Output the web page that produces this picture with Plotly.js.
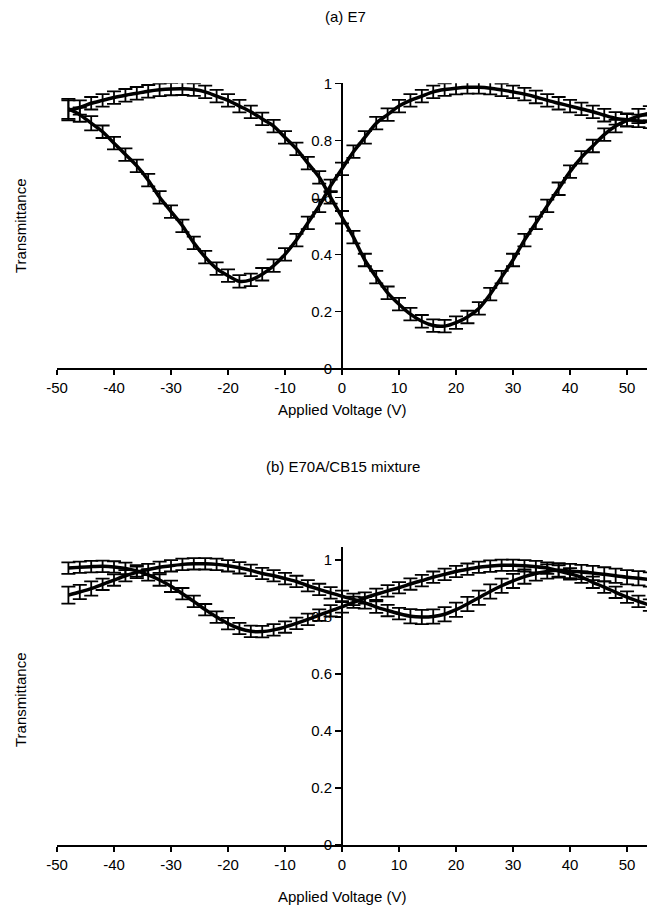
<!DOCTYPE html>
<html>
<head>
<meta charset="utf-8">
<script src="https://cdn.plot.ly/plotly-3.0.1.min.js"></script>
<style>html,body{margin:0;padding:0;background:#fff;}#chart{width:647px;height:907px;}</style>
</head>
<body>
<div id="chart"></div>
<script>
// Applied voltage (V)
var voltage = [-48,-46,-44,-42,-40,-38,-36,-34,-32,-30,-28,-26,-24,-22,-20,-18,-16,-14,-12,-10,-8,-6,-4,-2,0,2,4,6,8,10,12,14,16,18,20,22,24,26,28,30,32,34,36,38,40,42,44,46,48,50,52,54];

// (a) E7
var e7SweepA = [0.91,0.89,0.86,0.83,0.79,0.75,0.71,0.66,0.60,0.55,0.50,0.44,0.39,0.35,0.325,0.305,0.31,0.33,0.36,0.40,0.45,0.51,0.57,0.64,0.70,0.76,0.81,0.86,0.89,0.92,0.94,0.955,0.97,0.978,0.983,0.986,0.986,0.983,0.977,0.97,0.962,0.952,0.94,0.93,0.92,0.91,0.90,0.888,0.877,0.872,0.868,0.865];
var e7SweepB = [0.905,0.915,0.93,0.94,0.95,0.958,0.965,0.972,0.977,0.98,0.981,0.978,0.97,0.955,0.94,0.92,0.90,0.875,0.85,0.81,0.77,0.72,0.67,0.60,0.53,0.46,0.38,0.32,0.265,0.225,0.19,0.165,0.15,0.148,0.16,0.18,0.21,0.26,0.32,0.38,0.45,0.51,0.57,0.63,0.69,0.74,0.78,0.82,0.85,0.87,0.885,0.895];
var e7ErrA = [0.035,0.025,0.025,0.022,0.022,0.022,0.022,0.022,0.022,0.022,0.022,0.022,0.022,0.022,0.022,0.022,0.022,0.022,0.022,0.022,0.022,0.022,0.022,0.022,0.022,0.022,0.022,0.022,0.022,0.022,0.022,0.022,0.022,0.022,0.022,0.022,0.022,0.022,0.022,0.022,0.022,0.022,0.022,0.022,0.022,0.022,0.022,0.022,0.022,0.022,0.022,0.022];
var e7ErrB = [0.035,0.025,0.022,0.022,0.022,0.022,0.022,0.022,0.022,0.022,0.022,0.022,0.022,0.022,0.022,0.022,0.022,0.022,0.022,0.022,0.022,0.022,0.022,0.022,0.022,0.022,0.022,0.022,0.022,0.022,0.022,0.022,0.022,0.022,0.022,0.022,0.022,0.022,0.022,0.022,0.022,0.022,0.022,0.022,0.022,0.022,0.022,0.022,0.022,0.022,0.025,0.025];

// (b) E70A/CB15 mixture
var mixSweepC = [0.972,0.975,0.977,0.978,0.976,0.971,0.962,0.948,0.93,0.908,0.882,0.855,0.826,0.80,0.777,0.76,0.75,0.749,0.755,0.765,0.778,0.792,0.807,0.822,0.836,0.852,0.867,0.88,0.892,0.903,0.916,0.928,0.94,0.95,0.96,0.968,0.975,0.979,0.982,0.982,0.98,0.977,0.972,0.962,0.952,0.94,0.922,0.905,0.887,0.87,0.855,0.842];
var mixSweepD = [0.877,0.888,0.90,0.915,0.93,0.945,0.957,0.967,0.975,0.98,0.985,0.987,0.987,0.985,0.98,0.973,0.964,0.953,0.945,0.935,0.925,0.91,0.897,0.885,0.873,0.862,0.85,0.835,0.823,0.812,0.803,0.80,0.802,0.81,0.826,0.846,0.868,0.89,0.91,0.927,0.942,0.953,0.96,0.964,0.962,0.958,0.955,0.95,0.945,0.94,0.936,0.932];
var mixErrC = [0.02,0.02,0.02,0.02,0.02,0.02,0.02,0.02,0.02,0.02,0.02,0.02,0.02,0.02,0.02,0.02,0.02,0.02,0.02,0.02,0.02,0.02,0.02,0.02,0.02,0.02,0.02,0.02,0.02,0.02,0.02,0.02,0.02,0.02,0.02,0.02,0.02,0.02,0.02,0.02,0.02,0.02,0.02,0.02,0.02,0.02,0.02,0.02,0.02,0.02,0.02,0.02];
var mixErrD = [0.03,0.025,0.025,0.02,0.02,0.02,0.02,0.02,0.02,0.02,0.02,0.02,0.02,0.02,0.02,0.02,0.02,0.02,0.02,0.02,0.02,0.02,0.02,0.02,0.02,0.02,0.02,0.02,0.02,0.02,0.025,0.025,0.025,0.025,0.025,0.025,0.025,0.025,0.025,0.025,0.025,0.025,0.025,0.025,0.025,0.025,0.025,0.025,0.025,0.025,0.025,0.025];

var xTickVals = [-50,-40,-30,-20,-10,0,10,20,30,40,50];
var xTickText = ['-50','-40','-30','-20','-10','0','10','20','30','40','50'];
var yTickVals = [0,0.2,0.4,0.6,0.8,1];
var yTickText = ['0','0.2','0.4','0.6','0.8','1'];

var FONT = 'Liberation Sans, Arial, sans-serif';

function series(y, err, xa, ya) {
  return {
    x: voltage, y: y, xaxis: xa, yaxis: ya,
    type: 'scatter', mode: 'lines',
    line: {color: '#000', width: 3.5, shape: 'spline', smoothing: 0.8},
    error_y: {type: 'data', array: err, visible: true, color: '#000', thickness: 1.8, width: 7},
    showlegend: false, hoverinfo: 'skip'
  };
}

var data = [
  series(e7SweepA, e7ErrA, 'x', 'y'),
  series(e7SweepB, e7ErrB, 'x', 'y'),
  series(mixSweepC, mixErrC, 'x2', 'y2'),
  series(mixSweepD, mixErrD, 'x2', 'y2')
];

var W = 647, H = 907;
var xDom = [57 / W, 1];
function xAxis(anchor) {
  return {
    domain: xDom, range: [-50, 53.5], anchor: anchor,
    tickmode: 'array', tickvals: xTickVals, ticktext: xTickText,
    ticks: 'outside', ticklen: 5, tickwidth: 1.5, tickcolor: '#000',
    showline: true, linecolor: '#000', linewidth: 2,
    showgrid: false, zeroline: false,
    tickfont: {family: FONT, size: 15, color: '#000'}
  };
}
function yAxis(dom, range) {
  return {
    domain: dom, range: range, anchor: 'free', position: 342 / W,
    tickmode: 'array', tickvals: yTickVals, ticktext: yTickText,
    ticks: 'outside', ticklen: 6, tickwidth: 1.5, tickcolor: '#000',
    showline: true, linecolor: '#000', linewidth: 2,
    showgrid: false, zeroline: false,
    tickfont: {family: FONT, size: 15, color: '#000'}
  };
}

var layout = {
  width: W, height: H,
  margin: {l: 0, r: 0, t: 0, b: 0},
  paper_bgcolor: '#fff', plot_bgcolor: '#fff',
  font: {family: FONT, color: '#000'},
  xaxis: xAxis('y'),
  yaxis: yAxis([(H - 368.3) / H, (H - 83.3) / H], [0, 1]),
  xaxis2: xAxis('y2'),
  yaxis2: yAxis([(H - 845) / H, (H - 547) / H], [0, 1.046]),
  annotations: [
    {text: '(a) E7', xref: 'paper', yref: 'paper', x: 345 / W, y: (H - 17) / H, showarrow: false, xanchor: 'center', yanchor: 'middle', font: {family: FONT, size: 15}},
    {text: 'Applied Voltage (V)', xref: 'paper', yref: 'paper', x: 342 / W, y: (H - 409) / H, showarrow: false, xanchor: 'center', yanchor: 'middle', font: {family: FONT, size: 15}},
    {text: 'Transmittance', xref: 'paper', yref: 'paper', x: 20 / W, y: (H - 226) / H, showarrow: false, textangle: -90, xanchor: 'center', yanchor: 'middle', font: {family: FONT, size: 15}},
    {text: '(b) E70A/CB15 mixture', xref: 'paper', yref: 'paper', x: 343 / W, y: (H - 466) / H, showarrow: false, xanchor: 'center', yanchor: 'middle', font: {family: FONT, size: 15}},
    {text: 'Applied Voltage (V)', xref: 'paper', yref: 'paper', x: 342 / W, y: (H - 896) / H, showarrow: false, xanchor: 'center', yanchor: 'middle', font: {family: FONT, size: 15}},
    {text: 'Transmittance', xref: 'paper', yref: 'paper', x: 20 / W, y: (H - 700) / H, showarrow: false, textangle: -90, xanchor: 'center', yanchor: 'middle', font: {family: FONT, size: 15}}
  ]
};

Plotly.newPlot('chart', data, layout, {staticPlot: true, displayModeBar: false});
</script>
</body>
</html>
